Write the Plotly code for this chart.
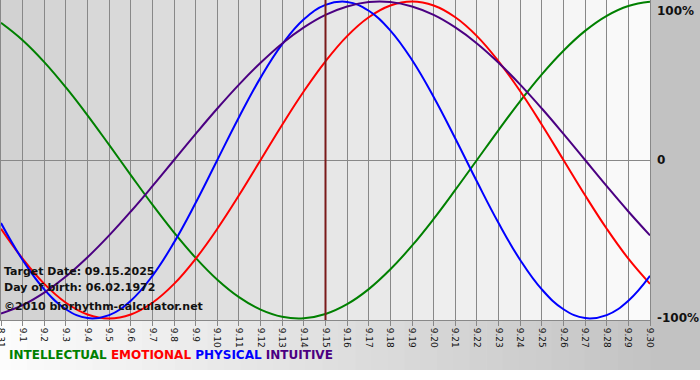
import plotly.graph_objects as go

# ---- data ----
day_labels = ["8.31", "9.1", "9.2", "9.3", "9.4", "9.5", "9.6", "9.7", "9.8", "9.9", "9.10",
              "9.11", "9.12", "9.13", "9.14", "9.15", "9.16", "9.17", "9.18", "9.19", "9.20",
              "9.21", "9.22", "9.23", "9.24", "9.25", "9.26", "9.27", "9.28", "9.29", "9.30"]
intellectual = [0.866, 0.756, 0.618, 0.458, 0.282, 0.095, -0.095, -0.282, -0.458, -0.618, -0.756,
                -0.866, -0.945, -0.990, -0.999, -0.972, -0.910, -0.815, -0.690, -0.541, -0.372,
                -0.189, 0.000, 0.189, 0.372, 0.541, 0.690, 0.815, 0.910, 0.972, 0.999]
emotional = [-0.434, -0.623, -0.782, -0.901, -0.975, -1.000, -0.975, -0.901, -0.782, -0.623, -0.434,
             -0.223, 0.000, 0.223, 0.434, 0.623, 0.782, 0.901, 0.975, 1.000, 0.975,
             0.901, 0.782, 0.623, 0.434, 0.223, 0.000, -0.223, -0.434, -0.623, -0.782]
physical = [-0.398, -0.631, -0.817, -0.942, -0.998, -0.979, -0.888, -0.731, -0.520, -0.270, 0.000,
            0.270, 0.520, 0.731, 0.888, 0.979, 0.998, 0.942, 0.817, 0.631, 0.398,
            0.136, -0.136, -0.398, -0.631, -0.817, -0.942, -0.998, -0.979, -0.888, -0.731]
intuitive = [-0.969, -0.916, -0.837, -0.736, -0.614, -0.476, -0.325, -0.165, 0.000, 0.165, 0.325,
             0.476, 0.614, 0.736, 0.837, 0.916, 0.969, 0.997, 0.997, 0.969, 0.916,
             0.837, 0.736, 0.614, 0.476, 0.325, 0.165, 0.000, -0.165, -0.325, -0.476]
target_label = "9.15"
y_tick_vals = [1, 0, -1]
y_tick_text = ["100%", "0", "-100%"]
info_lines = ["Target Date: 09.15.2025", "Day of birth: 06.02.1972", "©2010 biorhythm-calculator.net"]

series = [
    ("INTELLECTUAL", intellectual, "#008000"),
    ("EMOTIONAL", emotional, "#ff0000"),
    ("PHYSICAL", physical, "#0000ff"),
    ("INTUITIVE", intuitive, "#4b0082"),
]

x = list(range(len(day_labels)))
FONT = "DejaVu Sans"

fig = go.Figure()
for name, vals, col in series:
    fig.add_trace(go.Scatter(x=x, y=vals, mode="lines", name=name,
                             line=dict(color=col, width=2, shape="spline", smoothing=1.2),
                             hoverinfo="skip"))

shapes = []
# banded background gradient per day column
n = len(day_labels) - 1
for i in range(n):
    g = int(round(210 + (250 - 210) * i / (n - 1)))
    shapes.append(dict(type="rect", xref="x", yref="paper", x0=i, x1=i + 1, y0=0, y1=1,
                       fillcolor=f"rgb({g},{g},{g})", line=dict(width=0), layer="below"))
# right strip
shapes.append(dict(type="rect", xref="paper", yref="paper", x0=1.0, x1=1.08, y0=-0.15625, y1=1.0,
                   fillcolor="rgb(194,194,194)", line=dict(width=0), layer="below"))
# bottom horizontal gradient
steps = 40
for i in range(steps):
    g = int(round(252 - (252 - 196) * i / (steps - 1)))
    shapes.append(dict(type="rect", xref="paper", yref="paper",
                       x0=-0.01 + 1.01 * i / steps, x1=-0.01 + 1.01 * (i + 1) / steps + 0.001,
                       y0=-0.15625, y1=0, fillcolor=f"rgb({g},{g},{g})",
                       line=dict(width=0), layer="below"))
# target date marker
ti = day_labels.index(target_label)
shapes.append(dict(type="line", xref="x", yref="paper", x0=x[ti], x1=x[ti], y0=0, y1=1,
                   line=dict(color="#7a1a1a", width=2), layer="above"))

annotations = []
for ytv, txt in zip(y_tick_vals, y_tick_text):
    annotations.append(dict(xref="paper", yref="y", x=1.008, y=ytv, text=txt, showarrow=False,
                            xanchor="left", yanchor="top" if ytv == 1 else "middle",
                            font=dict(family=FONT, size=12, color="#111111", weight="bold")))
info_y = [0.153, 0.103, 0.041]
for yy, txt in zip(info_y, info_lines):
    annotations.append(dict(xref="paper", yref="paper", x=0.002, y=yy, text=txt, showarrow=False,
                            xanchor="left", yanchor="middle",
                            font=dict(family=FONT, size=11, color="#111111", weight="bold")))
legend_txt = " ".join(f"<span style='color:{c}'>{nm}</span>" for nm, _, c in series)
annotations.append(dict(xref="paper", yref="paper", x=0.009, y=-0.109, text=legend_txt,
                        showarrow=False, xanchor="left", yanchor="middle",
                        font=dict(family=FONT, size=12, weight="bold")))

fig.update_layout(
    width=700, height=380,
    margin=dict(l=1, r=50, t=0, b=60, autoexpand=False),
    paper_bgcolor="white",
    plot_bgcolor="rgba(0,0,0,0)",
    showlegend=False,
    shapes=shapes,
    annotations=annotations,
    xaxis=dict(range=[0, n], tickmode="array", tickvals=x, ticktext=day_labels,
               tickangle=90, tickfont=dict(family=FONT, size=9, color="#111111"),
               ticklabeloverflow="allow", automargin=False,
               showgrid=True, gridcolor="#888888", gridwidth=1,
               ticks="outside", ticklen=5, tickcolor="#888888",
               showline=True, linecolor="#888888", mirror=True, zeroline=False, fixedrange=True),
    yaxis=dict(range=[-1.01, 1.01], showgrid=False, zeroline=True, zerolinecolor="#888888",
               zerolinewidth=1, showticklabels=False, showline=True, linecolor="#888888",
               mirror=True, fixedrange=True, automargin=False),
)

fig.write_html("out.html", config={"displayModeBar": False},
               post_script="document.body.style.margin='0';document.body.style.overflow='hidden';")
